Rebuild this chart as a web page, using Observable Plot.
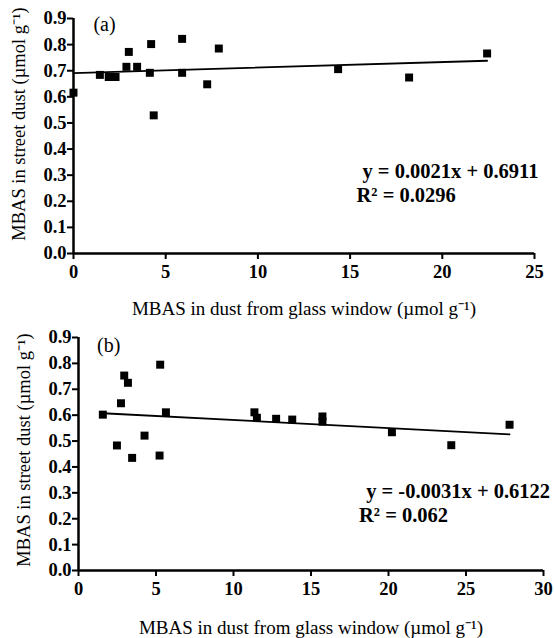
<!DOCTYPE html>
<html>
<head>
<meta charset="utf-8">
<script src="https://cdn.jsdelivr.net/npm/d3@7"></script>
<script src="https://cdn.jsdelivr.net/npm/@observablehq/plot@0.6"></script>
<style>
  html, body { margin: 0; padding: 0; background: #fff; }
  #chart { width: 554px; }
  #chart svg { display: block; }
  #chart svg, #chart svg text, #chart svg g { font-family: "Liberation Serif", "Times New Roman", serif !important; }
</style>
</head>
<body>
<div id="chart"></div>
<script>
// Panel (a)
const xA = [0, 1.43, 1.91, 2.28, 2.87, 3.0, 3.45, 4.14, 4.21, 4.35, 5.89, 5.89, 7.25, 7.88, 14.35, 18.2, 22.43];
const yA = [0.616, 0.684, 0.676, 0.676, 0.715, 0.772, 0.715, 0.692, 0.802, 0.529, 0.822, 0.692, 0.648, 0.785, 0.706, 0.674, 0.766];
const fitA = {slope: 0.0021, intercept: 0.6911};
const eqA = ["y = 0.0021x + 0.6911", "R² = 0.0296"];

// Panel (b)
const xB = [1.57, 2.48, 2.74, 2.95, 3.19, 3.46, 4.26, 5.23, 5.27, 5.64, 11.35, 11.51, 12.75, 13.79, 15.74, 15.74, 20.22, 24.05, 27.81];
const yB = [0.602, 0.483, 0.646, 0.753, 0.725, 0.435, 0.521, 0.444, 0.795, 0.611, 0.611, 0.59, 0.586, 0.583, 0.595, 0.575, 0.534, 0.484, 0.563];
const fitB = {slope: -0.0031, intercept: 0.6122};
const eqB = ["y = -0.0031x + 0.6122", "R² = 0.062"];

const yTicks = [0, 0.1, 0.2, 0.3, 0.4, 0.5, 0.6, 0.7, 0.8, 0.9];
const xTicksA = [0, 5, 10, 15, 20, 25];
const xTicksB = [0, 5, 10, 15, 20, 25, 30];
const xTitle = "MBAS in dust from glass window (µmol g⁻¹)";
const yTitle = "MBAS in street dust (µmol g⁻¹)";
const serif = "'Liberation Serif', 'Times New Roman', serif";

function panel({xs, ys, fit, eq, tag, xTicks, xMax, height, margins, eqPos, tagPos, yTitleDy, xTitleDy}) {
  const data = xs.map((x, i) => ({x, y: ys[i]}));
  const x0 = d3.min(xs), x1 = d3.max(xs);
  const line = [x0, x1].map(x => ({x, y: fit.slope * x + fit.intercept}));
  const svg = Plot.plot({
    width: 554,
    height,
    ...margins,
    style: {fontFamily: serif, fontSize: "18.5px", fontWeight: "bold", color: "#000", background: "#fff"},
    x: {domain: [0, xMax]},
    y: {domain: [0, 0.9]},
    marks: [
      Plot.axisY({ticks: yTicks, tickFormat: d3.format(".1f"), tickSize: 6, tickPadding: 1, strokeWidth: 2, label: null}),
      Plot.axisX({ticks: xTicks, tickFormat: d3.format("d"), tickSize: 6, tickPadding: 5, strokeWidth: 2, label: null}),
      Plot.ruleX([0], {strokeWidth: 2.5}),
      Plot.ruleY([0], {strokeWidth: 2.5}),
      Plot.line(line, {x: "x", y: "y", strokeWidth: 1.8, stroke: "#000"}),
      Plot.dot(data, {x: "x", y: "y", symbol: "square", r: 4.5, fill: "#000", stroke: null}),
      Plot.text([tag], {x: tagPos[0], y: tagPos[1], text: d => d, textAnchor: "start", fontSize: 20, fontWeight: "normal"}),
      Plot.text([eq[0]], {x: eqPos[0], y: eqPos[1], text: d => d, textAnchor: "start", fontSize: 20.5, fontWeight: "bold"}),
      Plot.text([eq[1]], {x: eqPos[2], y: eqPos[3], text: d => d, textAnchor: "start", fontSize: 20.5, fontWeight: "bold"}),
      Plot.text([yTitle], {frameAnchor: "left", dx: -54, dy: yTitleDy, rotate: -90, textAnchor: "middle", lineAnchor: "middle", text: d => d, fontSize: 18.5, fontWeight: "normal"}),
      Plot.text([xTitle], {frameAnchor: "bottom", dy: xTitleDy, textAnchor: "middle", lineAnchor: "middle", text: d => d, fontSize: 19, fontWeight: "normal"})
    ]
  });
  return svg;
}

const chart = document.getElementById("chart");
chart.append(panel({
  xs: xA, ys: yA, fit: fitA, eq: eqA, tag: "(a)", xTicks: xTicksA, xMax: 25, height: 320,
  margins: {marginLeft: 73, marginRight: 20, marginTop: 18, marginBottom: 67},
  eqPos: [15.67, 0.313, 15.35, 0.221], tagPos: [1.08, 0.875], yTitleDy: -12, xTitleDy: 55
}));
chart.append(panel({
  xs: xB, ys: yB, fit: fitB, eq: eqB, tag: "(b)", xTicks: xTicksB, xMax: 30, height: 318,
  margins: {marginLeft: 78, marginRight: 11, marginTop: 17, marginBottom: 68},
  eqPos: [18.56, 0.305, 18.1, 0.212], tagPos: [1.2, 0.869], yTitleDy: -4, xTitleDy: 57
}));
</script>
</body>
</html>
